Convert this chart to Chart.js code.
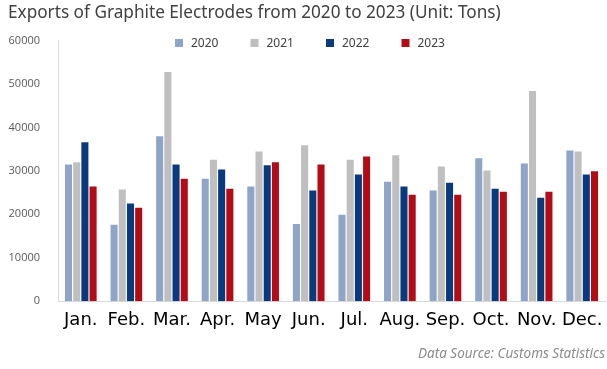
<!DOCTYPE html>
<html>
<head>
<meta charset="utf-8">
<script src="https://cdn.jsdelivr.net/npm/chart.js@4"></script>
<style>
  html, body { margin: 0; padding: 0; background: #fff; }
  #wrap { width: 607px; height: 369px; }
</style>
</head>
<body>
<div id="wrap"><canvas id="exportsChart" width="607" height="369"></canvas></div>
<script>
const months = ['Jan.', 'Feb.', 'Mar.', 'Apr.', 'May', 'Jun.', 'Jul.', 'Aug.', 'Sep.', 'Oct.', 'Nov.', 'Dec.'];
const years = ['2020', '2021', '2022', '2023'];
const exports2020 = [31500, 17600, 38000, 28200, 26400, 17800, 19900, 27500, 25500, 32900, 31700, 34700];
const exports2021 = [32000, 25700, 52800, 32600, 34500, 35900, 32600, 33600, 31000, 30100, 48400, 34500];
const exports2022 = [36600, 22500, 31500, 30300, 31300, 25500, 29200, 26400, 27300, 25900, 23800, 29200];
const exports2023 = [26400, 21500, 28200, 25900, 32000, 31500, 33300, 24500, 24500, 25200, 25200, 29900];
const yTicks = [0, 10000, 20000, 30000, 40000, 50000, 60000];
const colors = ['#8ea5c8', '#bfbfbf', '#0a3a7e', '#b20c16'];

// leyenda dibujada a mano, dentro del area del grafico
const topLegend = {
  id: 'topLegend',
  afterDraw(chart) {
    const ctx = chart.ctx;
    const step = 75.5;
    let x = chart.width / 2 - 128.5;
    const y = 43;
    ctx.save();
    ctx.font = '12px "Noto Sans"';
    ctx.textBaseline = 'middle';
    chart.data.datasets.forEach(ds => {
      ctx.fillStyle = ds.backgroundColor;
      ctx.fillRect(x, y - 4, 8, 8);
      ctx.fillStyle = '#404040';
      ctx.fillText(ds.label, x + 16, y + 1);
      x += step;
    });
    ctx.restore();
  }
};

const seriesValues = [exports2020, exports2021, exports2022, exports2023];

new Chart(document.getElementById('exportsChart'), {
  type: 'bar',
  data: {
    labels: months,
    datasets: years.map((yr, i) => ({
      label: yr,
      data: seriesValues[i],
      backgroundColor: colors[i],
      categoryPercentage: 0.72,
      barPercentage: 0.86
    }))
  },
  options: {
    responsive: false,
    animation: false,
    layout: { padding: { left: 8, right: 2, top: 0, bottom: 0 } },
    plugins: {
      legend: { display: false },
      tooltip: { enabled: false },
      title: {
        display: true,
        text: 'Exports of Graphite Electrodes from 2020 to 2023 (Unit: Tons)',
        align: 'start',
        color: '#404040',
        font: { family: '"Noto Sans"', size: 17.2, weight: 'normal' },
        padding: { top: 3, bottom: 17 }
      },
      subtitle: {
        display: true,
        position: 'bottom',
        text: 'Data Source: Customs Statistics',
        align: 'end',
        color: '#8c8c8c',
        font: { family: '"Noto Sans"', size: 13.5, style: 'italic' },
        padding: { top: 15, bottom: 7 }
      }
    },
    scales: {
      x: {
        grid: { display: false },
        border: { display: true, color: '#d9d9d9' },
        ticks: {
          color: '#000',
          font: { family: '"DejaVu Sans"', size: 18 },
          padding: 0,
          maxRotation: 0,
          autoSkip: false
        }
      },
      y: {
        min: 0,
        max: 60000,
        afterBuildTicks: s => { s.ticks = yTicks.map(v => ({ value: v })); },
        afterFit: s => { s.width = 50; },
        grid: { display: false },
        border: { display: true, color: '#d9d9d9' },
        ticks: {
          color: '#595959',
          font: { family: '"Open Sans"', size: 11 },
          padding: 10,
          callback: v => String(v)
        }
      }
    }
  },
  plugins: [topLegend]
});
</script>
</body>
</html>
